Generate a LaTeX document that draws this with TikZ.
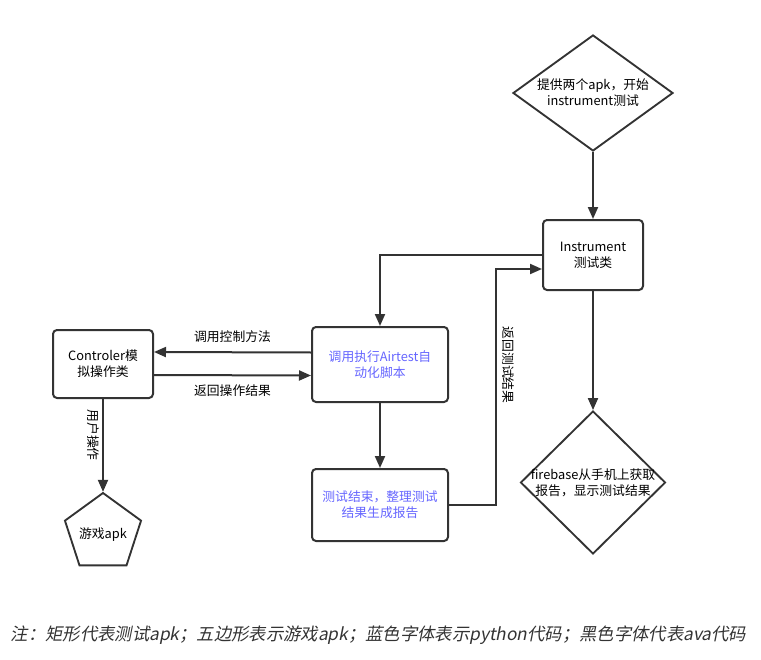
\documentclass[tikz,border=0pt]{standalone}
\usepackage{fontspec}
\setmainfont{Noto Sans CJK SC}
\newfontfamily\notefont[FakeSlant=0.2]{Noto Sans CJK SC}
\usetikzlibrary{shapes.geometric,arrows.meta,calc}
\definecolor{linegray}{HTML}{333333}
\definecolor{pyblue}{HTML}{6666FF}
\begin{document}
\begin{tikzpicture}[x=0.75pt,y=-0.75pt,
  every node/.style={font=\fontsize{9.6pt}{12pt}\selectfont, text=black, align=center},
  box/.style={draw=linegray, line width=1.5pt, rounded corners=3pt, fill=white, inner sep=0pt},
  decision/.style={draw=linegray, line width=1.4pt, diamond, inner sep=0pt},
  game/.style={draw=linegray, line width=1.4pt, regular polygon, regular polygon sides=5, inner sep=0pt, minimum size=60pt},
  flow/.style={draw=linegray, line width=1.5pt, -{Triangle[length=9pt,width=7.5pt]}},
  plain/.style={draw=linegray, line width=1.5pt},
  py/.style={text=pyblue},
  tag/.style={font=\fontsize{9.6pt}{12pt}\selectfont}]
  \useasboundingbox (0,0) rectangle (761,660);

  % start: two apks provided
  \node[decision, minimum width=120pt, minimum height=87pt] (start) at (593,93) {};
  \node (starttxt) at (593,93) {提供两个apk，开始\\instrument测试};

  % instrument test class
  \node[box, minimum width=75pt, minimum height=52.5pt] (instr) at (593,255) {Instrument\\测试类};

  % airtest script runner
  \node[box, minimum width=102pt, minimum height=56.25pt] (air) at (380,364.5) {\color{pyblue}调用执行Airtest自\\\color{pyblue}动化脚本};

  % controller class
  \node[box, minimum width=75pt, minimum height=51pt] (ctrl) at (103,364) {Controler模\\拟操作类};

  % report generation
  \node[box, minimum width=102pt, minimum height=54pt] (res) at (380,505) {\color{pyblue}测试结束，整理测试\\\color{pyblue}结果生成报告};

  % firebase report
  \node[decision, minimum width=108.75pt, minimum height=107.25pt] (fire) at (593,482.5) {};
  \node (firetxt) at (593,483) {firebase从手机上获取\\报告，显示测试结果};

  % game apk
  \node[game] (gameapk) at (103,533) {};
  \node (gametxt) at (103,535) {游戏apk};

  % connectors
  \draw[flow] (start.south) -- (instr.north);
  \draw[flow] (instr.west) -| (air.north);
  \draw[flow] ([yshift=9pt]air.west) -- ([yshift=9pt]ctrl.east)
     node[midway, above=3pt, tag] (lblcall) {调用控制方法};
  \draw[flow] ([yshift=-8.25pt]ctrl.east) -- ([yshift=-8.25pt]air.west)
     node[midway, below=3pt, tag] (lblret) {返回操作结果};
  \draw[flow] (air.south) -- (res.north);
  \draw[flow] (res.east) -- ++(47,0) |- ([yshift=-10.5pt]instr.west);
  \node[rotate=-90, tag] (lblres) at (508,365) {返回测试结果};
  \draw[flow] (instr.south) -- (fire.north);
  \draw[flow] (ctrl.south) -- (gameapk.corner 1);
  \node[rotate=-90, tag] (lbluser) at (93,435) {用户操作};

  % legend line
  \node[anchor=west, font=\fontsize{13pt}{15pt}\notefont, text=linegray] (note) at (6,635)
    {注：矩形代表测试apk；五边形表示游戏apk；蓝色字体表示python代码；黑色字体代表ava代码};
\end{tikzpicture}
\end{document}
